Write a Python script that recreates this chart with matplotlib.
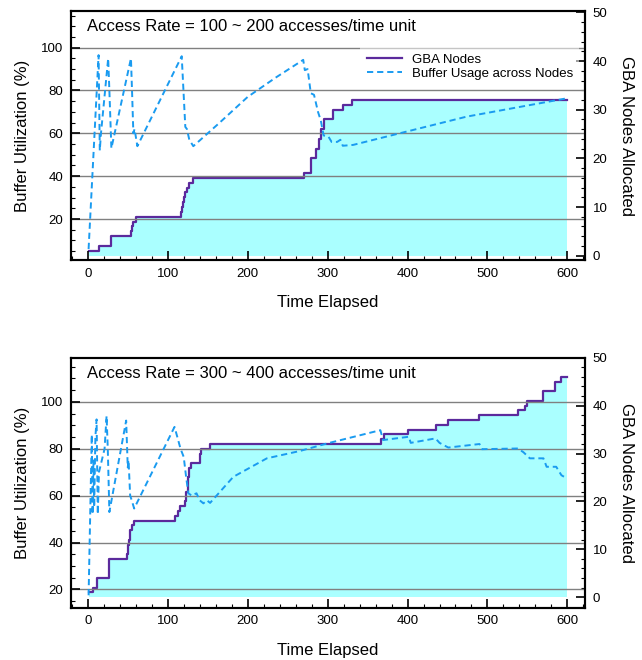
import matplotlib
matplotlib.use("Agg")
import matplotlib.pyplot as plt
from matplotlib.ticker import MultipleLocator

plt.rcParams['font.family'] = ['Liberation Sans', 'DejaVu Sans']

# ---- top panel: access rate 100 ~ 200 ----
top_node_t = [1, 14, 29, 54, 55, 57, 60, 117, 118, 119, 120, 122, 124, 127, 131,
              270, 279, 285, 289, 292, 296, 307, 319, 330, 600]
top_nodes = [1, 2, 4, 5, 6, 7, 8, 9, 10, 11, 12, 13, 14, 15, 16,
             17, 20, 22, 24, 26, 28, 30, 31, 32, 32]

top_buf_t = [1, 13.5, 15, 16.5, 25.5, 27, 29.5, 54, 55.5, 57, 58.5, 62, 117.5, 122, 124,
             127, 132, 165, 200, 235, 269.5, 271.5, 275, 279, 283, 288, 291.5, 295, 301,
             305, 312, 316, 319, 332, 390, 474, 600]
top_buf = [6, 96.5, 52, 60, 95, 80, 53, 95, 78, 60, 62, 54, 96, 63, 62,
           57, 54, 65, 77, 86, 94.3, 89.5, 90, 78.7, 78, 70, 66, 59, 58.5,
           56, 56, 57, 54.2, 54.6, 60, 67.8, 76.4]

# ---- bottom panel: access rate 300 ~ 400 ----
bot_node_t = [2, 6, 11, 26, 49, 50, 51, 53, 55, 58, 109, 113, 115, 121, 123, 125, 127,
              129, 140, 142, 153, 367, 370, 401, 436, 450, 490, 538, 547, 550, 570,
              585, 592, 600]
bot_nodes = [1, 2, 4, 8, 9, 11, 12, 14, 15, 16, 17, 18, 19, 20, 22, 25, 27,
             28, 30, 31, 32, 33, 34, 35, 36, 37, 38, 39, 40, 41, 43,
             45, 46, 46]

bot_buf_t = [1, 5, 6, 7, 8, 9.5, 11, 12.5, 14, 21, 23.5, 25, 27, 48, 50, 51, 53, 55, 58,
             108.5, 112, 116, 120, 123, 125.8, 130, 136, 140, 144.6, 149, 153, 182, 224,
             265, 300, 366, 369.5, 401.6, 404, 435, 440, 451, 490, 493, 538, 545, 553,
             570, 574, 586, 592.5, 599.5]
bot_buf = [17.5, 86, 52, 75, 55, 85, 92.5, 52, 70, 80, 94, 80, 53, 92, 72, 75, 60, 58, 54.5,
           89.3, 85, 80, 76.5, 68, 61, 60, 61, 58, 56.7, 58, 56.9, 68, 75.9,
           79, 82.3, 87.9, 83.7, 85.1, 82.5, 84.4, 82.5, 80.5, 82, 79.8, 80.1, 78.5, 75.9,
           75.9, 72.3, 72.3, 68.7, 67.3]

x_ticks = [0, 100, 200, 300, 400, 500, 600]
left_ticks = [20, 40, 60, 80, 100]
right_ticks = [0, 10, 20, 30, 40, 50]

PURPLE = '#5b2a9c'
BLUE = '#1a9bf0'
FILL = '#aaffff'


def draw_panel(ax, node_t, nodes, buf_t, buf, title, left_lim, right_lim, legend=False):
    ax2 = ax.twinx()
    ax.set_zorder(ax2.get_zorder() + 1)
    ax.patch.set_visible(False)

    ax2.fill_between(node_t, 0, nodes, step='post', color=FILL, lw=0)
    nodes_line, = ax2.step(node_t, nodes, where='post', color=PURPLE, lw=1.6)
    buf_line, = ax.plot(buf_t, buf, color=BLUE, lw=1.4, dashes=(3.2, 2.0))

    ax.set_xlim(-21, 622)
    ax.set_ylim(*left_lim)
    ax2.set_ylim(*right_lim)
    ax.set_xticks(x_ticks)
    ax.set_yticks(left_ticks)
    ax2.set_yticks(right_ticks)
    ax.xaxis.set_minor_locator(MultipleLocator(20))
    ax.yaxis.set_minor_locator(MultipleLocator(5))
    ax2.yaxis.set_minor_locator(MultipleLocator(2))

    ax.grid(axis='y', which='major', color='#808080', lw=1)

    for a in (ax, ax2):
        for sp in a.spines.values():
            sp.set_linewidth(1.5)
        a.tick_params(which='both', direction='in', labelsize=9.5, pad=5.5, width=1.2)
        a.tick_params(which='major', length=6.7)
        a.tick_params(which='minor', length=3, width=0.8)
    ax.tick_params(axis='y', which='both', right=False)
    ax.tick_params(axis='x', which='both', top=False)
    ax2.tick_params(axis='x', which='both', top=False, bottom=False)

    ax.set_xlabel('Time Elapsed', fontsize=12, labelpad=11)
    ax.set_ylabel('Buffer Utilization (%)', fontsize=12, labelpad=8)
    ax2.set_ylabel('GBA Nodes Allocated', fontsize=12, rotation=270, labelpad=19)

    ax.text(0.032, 0.936, title, transform=ax.transAxes, fontsize=12, va='center', ha='left')

    if legend:
        ax.legend([nodes_line, buf_line], ['GBA Nodes', 'Buffer Usage across Nodes'],
                  loc='upper left', bbox_to_anchor=(0.563, 0.856), frameon=True,
                  fancybox=False, edgecolor='none', facecolor='white', framealpha=0.55,
                  fontsize=9.5, handlelength=2.65, handletextpad=0.73,
                  labelspacing=0.15, borderpad=0.5, borderaxespad=0)


fig = plt.figure(figsize=(6.42, 6.60), dpi=100)
ax_top = fig.add_axes([0.1106, 0.606, 0.8006, 0.3773])
ax_bot = fig.add_axes([0.1106, 0.0792, 0.8006, 0.3788])

draw_panel(ax_top, top_node_t, top_nodes, top_buf_t, top_buf,
           'Access Rate = 100 ~ 200 accesses/time unit', (0.85, 117.1), (-0.9, 50.3),
           legend=True)
draw_panel(ax_bot, bot_node_t, bot_nodes, bot_buf_t, bot_buf,
           'Access Rate = 300 ~ 400 accesses/time unit', (12.2, 118.8), (-2.2, 50.0))

fig.savefig('out.png', dpi=100)
